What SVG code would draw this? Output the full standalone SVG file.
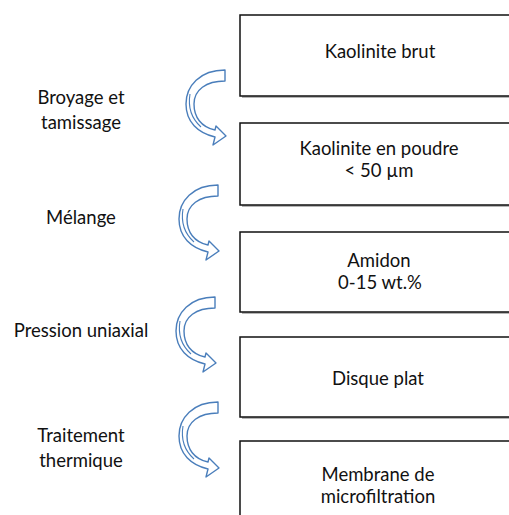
<svg xmlns="http://www.w3.org/2000/svg" width="509" height="515" viewBox="0 0 509 515">
<style>
.box{fill:#fff;stroke:#111;stroke-width:1.5}
.shadow{fill:#b5b5b5}
.t{font-family:Lato,"Open Sans","Liberation Sans",sans-serif;font-size:18.5px;fill:#111;text-anchor:middle}
.arr{fill:#fff;stroke:#4a7ebb;stroke-width:1.4;stroke-linejoin:round}
.arrline{fill:none;stroke:#4a7ebb;stroke-width:1.1}
</style>
<defs>
<g id="carrow">
<path class="arr" d="M 0,0 C -25,0 -39,16 -39,34 C -39,52 -27,63 -10,67 L -12,75 L 1,66 L -9,56 L -10,60 C -24,57 -31,47 -31,34 C -31,20 -19,11 0,11 Z"/>
<path class="arrline" d="M -35,24 C -37,36 -34,48 -24,57"/>
</g>
</defs>
<rect width="509" height="515" fill="#fff"/>
<g id="connectors">
<use href="#carrow" transform="translate(225,70)"/>
<use href="#carrow" transform="translate(218,185)"/>
<use href="#carrow" transform="translate(215,297)"/>
<use href="#carrow" transform="translate(218,402)"/>
</g>
<g id="label-broyage">
<text class="t" x="81" y="104">Broyage et</text>
<text class="t" x="81" y="129">tamissage</text>
</g>
<g id="label-melange">
<text class="t" x="81" y="224">Mélange</text>
</g>
<g id="label-pression">
<text class="t" x="81" y="337">Pression uniaxial</text>
</g>
<g id="label-traitement">
<text class="t" x="81" y="442">Traitement</text>
<text class="t" x="81" y="467">thermique</text>
</g>
<g id="node-kaolinite-brut">
<rect class="shadow" x="242" y="17" width="290" height="81"/>
<rect class="box" x="240" y="15" width="290" height="81"/>
<text class="t" x="380" y="58">Kaolinite brut</text>
</g>
<g id="node-kaolinite-poudre">
<rect class="shadow" x="242" y="125" width="290" height="82"/>
<rect class="box" x="240" y="123" width="290" height="82"/>
<text class="t" x="379" y="155">Kaolinite en poudre</text>
<text class="t" x="379" y="177">&lt; 50 µm</text>
</g>
<g id="node-amidon">
<rect class="shadow" x="242" y="234" width="290" height="80"/>
<rect class="box" x="240" y="232" width="290" height="80"/>
<text class="t" x="379" y="267">Amidon</text>
<text class="t" x="380" y="289">0-15 wt.%</text>
</g>
<g id="node-disque">
<rect class="shadow" x="242" y="339" width="290" height="80"/>
<rect class="box" x="240" y="337" width="290" height="80"/>
<text class="t" x="378" y="385">Disque plat</text>
</g>
<g id="node-membrane">
<rect class="shadow" x="242" y="443" width="290" height="90"/>
<rect class="box" x="240" y="441" width="290" height="90"/>
<text class="t" x="378" y="481">Membrane de</text>
<text class="t" x="378" y="503">microfiltration</text>
</g>
</svg>
